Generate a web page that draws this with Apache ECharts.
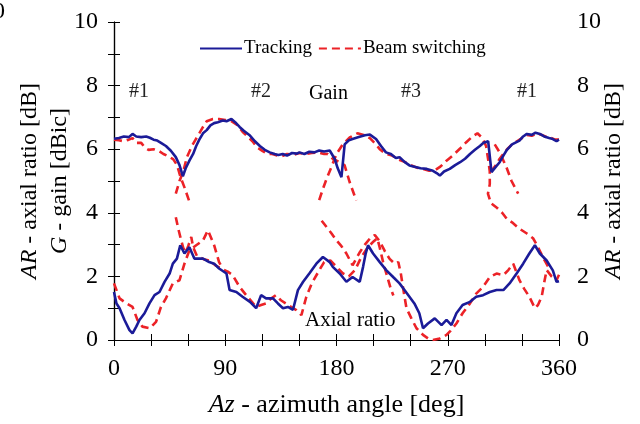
<!DOCTYPE html>
<html lang="en">
<head>
<meta charset="UTF-8">
<style>
  html, body { height: 100%; margin: 0; background: #fff; }
</style>
</head>
<body>
<div id="chart" style="width:640px;height:424px;"></div>
<script src="https://cdn.jsdelivr.net/npm/echarts@6/dist/echarts.min.js"></script>
<script>
// tracking (blue, solid)
var trackGain = [[0,6.33],[4,6.35],[8,6.4],[12,6.38],[15,6.48],[18,6.4],[22,6.38],[26,6.4],[29,6.36],[32,6.3],[35,6.27],[38,6.2],[42,6.1],[46,5.95],[50,5.75],[53,5.5],[55.7,5.15],[58,5.4],[61,5.64],[64,5.85],[66.5,6.1],[69,6.3],[72,6.5],[75,6.6],[78,6.75],[81,6.82],[84,6.85],[88,6.9],[91,6.88],[95,6.95],[98,6.85],[101.6,6.7],[105,6.58],[110,6.43],[114,6.25],[118,6.1],[122,5.98],[126,5.9],[130,5.85],[133,5.82],[136.5,5.85],[140,5.8],[144,5.88],[148,5.86],[150,5.9],[154,5.85],[158,5.92],[162,5.9],[166,5.96],[170,5.93],[174.5,5.96],[178.5,5.7],[181,5.4],[184,5.12],[186.6,6.15],[190,6.28],[193,6.32],[198,6.38],[203,6.44],[207,6.46],[212,6.32],[216,6.1],[220,5.9],[224,5.85],[228,5.72],[231,5.75],[235,5.6],[239,5.49],[243,5.45],[248,5.4],[253,5.38],[258,5.32],[261,5.25],[263.6,5.17],[267,5.3],[271.6,5.38],[276,5.5],[280,5.59],[284,5.7],[288,5.85],[292,5.98],[296,6.1],[299,6.2],[302.7,6.25],[305.4,5.28],[309,5.45],[312,5.59],[315,5.8],[317.5,5.96],[322,6.15],[328,6.27],[331,6.4],[334,6.48],[338,6.45],[341,6.52],[344.5,6.48],[348,6.4],[352,6.35],[355,6.32],[358,6.25],[360,6.3]];
var trackAR = [[0,1.51],[2,1.15],[4.5,1.0],[8.5,0.63],[12.5,0.31],[15,0.21],[18,0.42],[20.6,0.63],[24.7,0.84],[28.7,1.15],[32.8,1.41],[36.8,1.51],[40.9,1.83],[45,2.09],[47.6,2.4],[50.9,2.56],[53.6,2.98],[57,2.72],[61,2.92],[65,2.56],[72,2.56],[77,2.45],[81,2.4],[85,2.25],[91,2.09],[93.5,1.57],[99,1.51],[104,1.36],[110,1.2],[115,1.0],[119,1.41],[123,1.31],[128.6,1.31],[132.6,1.15],[136.7,1.0],[140.7,1.04],[144.8,0.95],[148.8,1.57],[153,1.83],[158,2.09],[163.7,2.4],[169,2.61],[174.5,2.45],[177,2.3],[182.6,2.09],[188,1.83],[193,1.98],[198.8,1.83],[201.5,2.3],[203.5,2.7],[205.5,2.98],[209.6,2.72],[215,2.45],[220.4,2.19],[225.8,1.98],[231,1.78],[235,1.57],[239,1.36],[243,1.15],[247,0.84],[250,0.37],[254,0.52],[259.5,0.68],[265,0.47],[269,0.63],[273,0.47],[277,0.84],[282,1.1],[288,1.2],[293,1.36],[298.6,1.41],[304,1.51],[309.5,1.57],[315,1.57],[320,1.78],[325.7,2.09],[331,2.4],[336,2.72],[340.5,2.98],[344.5,2.72],[350,2.5],[355,2.19],[358,1.83],[360,1.85]];

// beam switching (red, dashed), one piece per beam curve
var beamGain1 = [[0,6.3],[4,6.28],[8,6.25],[12,6.3],[15,6.35],[18,6.2],[22,6.2],[25,6.05],[28,5.98],[32,6.0],[36,5.95],[40,5.85],[44,5.78],[48,5.68],[51,5.5],[54,5.1],[57,4.8],[61,4.35]];
var beamGain2 = [[50,4.6],[53,5.0],[56,5.3],[59,5.75],[63,6.1],[66,6.3],[69,6.5],[72,6.7],[75,6.88],[80,6.95],[85,6.95],[90,6.92],[95,6.88],[100,6.75],[104,6.55],[108,6.4],[112,6.25],[116,6.05],[120,5.95],[124,5.85],[128,5.85],[132,5.8],[136,5.78],[140,5.85],[145,5.82],[150,5.88],[155,5.85],[160,5.88],[165,5.9],[170,5.85],[173,5.85],[177,5.7],[182,5.6],[186.5,5.5],[190.7,4.96],[196,4.39]];
var beamGain3 = [[166,4.4],[169,4.75],[172,5.07],[176,5.45],[180,5.85],[185,6.15],[190.7,6.37],[197,6.5],[202,6.45],[207,6.35],[212,6.15],[215,6.0],[220,5.85],[225,5.8],[230,5.68],[235,5.6],[240,5.5],[245,5.42],[250,5.38],[255,5.32],[260,5.35],[264,5.45],[269,5.64],[274,5.8],[280,6.02],[285,6.22],[290,6.4],[294,6.5],[298,6.35],[301,6.1],[303,5.6],[304,5.3],[304,4.9],[302.5,4.6],[305,4.3],[310,4.15],[314,4.0],[318,3.8],[322,3.7],[328,3.5],[334,3.35],[339,3.2],[342,3.0],[347,2.6],[352,2.25]];
var beamGain4 = [[308,6.15],[312,5.9],[317.5,5.43],[321.6,5.0],[327,4.6]];
var beamGain5 = [[305,5.3],[309,5.5],[312,5.7],[315,5.85],[318,6.0],[322,6.15],[326,6.25],[330,6.35],[334,6.45],[338,6.42],[342,6.5],[346,6.45],[350,6.38],[354,6.35],[357,6.3],[360,6.3]];
var beamAR1 = [[0,1.78],[4.5,1.31],[10,1.15],[15,1.04],[19,0.63],[23,0.42],[29,0.37],[34,0.57],[38,1.04],[42,1.31],[47.6,1.78],[53,1.88],[57,2.4],[61,2.82],[66.5,2.98],[72,3.13],[76,3.45],[81,2.98],[85,2.45],[88,2.25]];
var beamAR2 = [[50,3.86],[52,3.5],[54,3.19],[56,2.9],[58,2.75],[60,2.95],[62.5,3.24],[64,2.92],[67,2.65],[72,2.55],[77,2.5],[82,2.35],[88,2.22],[92,2.15],[96,2.04],[101.6,1.67],[108,1.36],[115,1.04],[119,1.1],[123,1.15],[127,1.3],[131,1.41],[135,1.25],[139,1.15],[143,1.05],[147.5,0.94],[151.6,0.78],[155.6,1.36],[160,1.78],[166,2.19],[170,2.45],[175,2.5],[180,2.3],[185,2.1],[190,2.0],[195,2.2],[200,2.6],[205,2.9],[210,3.1],[213,3.2],[215,2.9],[218,2.4],[221,2.0],[224,1.6],[226,1.4]];
var beamAR3 = [[168,3.75],[172,3.55],[176,3.35],[180,3.13],[184,2.95],[188,2.72],[193,2.35],[199,2.77],[203,3.0],[207,3.19],[211,3.3],[215,3.1],[219,2.8],[223,2.55],[227,2.4],[230,2.45],[232,2.1],[234,1.6],[236.6,1.0],[240.6,0.68],[244.7,0.37],[250,0.16],[254,0.05],[258,0],[263.6,0.05],[269,0.16],[272,0.28],[277,0.52],[282,0.84],[288,1.15],[293,1.46],[298.6,1.67],[304,1.98],[309.5,2.09],[315,2.04],[319,2.2],[323,2.4],[328,1.88],[332,1.6],[336,1.36],[340.5,1.0],[343,1.1],[346,1.36],[348,1.8],[350,2.2],[354,2.0],[358,1.88],[360,2.05]];

var beamPieces = [beamGain1, beamGain2, beamGain3, beamGain4, beamGain5, beamAR1, beamAR2, beamAR3];
var trackPieces = [trackGain, trackAR];

var font = '"Liberation Serif", "Times New Roman", serif';
var blue = '#1b1b98';
var red = '#ec2227';

var series = [];
beamPieces.forEach(function (d) {
    series.push({
        name: 'Beam switching', type: 'line', data: d, symbol: 'none',
        lineStyle: { color: red, width: 2.6, type: [8, 5] },
        itemStyle: { color: red }, silent: true
    });
});
trackPieces.forEach(function (d) {
    series.push({
        name: 'Tracking', type: 'line', data: d, symbol: 'none',
        lineStyle: { color: blue, width: 2.6 },
        itemStyle: { color: blue }, silent: true
    });
});

var axisText = { color: '#000', fontFamily: font, fontSize: 24 };
function nameStyle(size, lh) {
    return {
        color: '#000', fontFamily: font, fontSize: size, lineHeight: lh,
        rich: { i: { fontStyle: 'italic', fontFamily: font, fontSize: size, lineHeight: lh, color: '#000' } }
    };
}
var lineBlack = { lineStyle: { color: '#000', width: 1.2 } };
var tickIn = { show: true, inside: true, length: 6, lineStyle: { color: '#000' } };

var myChart = echarts.init(document.getElementById('chart'));
myChart.setOption({
    animation: false,
    backgroundColor: '#fff',
    grid: { left: 114, right: 81, top: 22, bottom: 84, outerBoundsMode: 'none', containLabel: false },
    legend: {
        top: 34, left: 194,
        itemWidth: 42, itemHeight: 14, itemGap: 6,
        itemStyle: { opacity: 0 },
        textStyle: { color: '#000', fontFamily: font, fontSize: 19, padding: [0, 0, 0, -3] },
        data: ['Tracking', 'Beam switching']
    },
    xAxis: [{
        type: 'value', min: 0, max: 360, interval: 30,
        axisLine: lineBlack, axisTick: tickIn,
        splitLine: { show: false },
        axisLabel: Object.assign({ margin: 17, formatter: function (v) { return v % 90 === 0 ? v : ''; } }, axisText),
        name: '{i|Az} - azimuth angle [deg]', nameLocation: 'middle', nameGap: 51,
        nameMoveOverlap: false,
        nameTextStyle: nameStyle(26, 28)
    }, {
        type: 'value', min: 0, max: 360, interval: 30, position: 'top',
        axisLine: lineBlack, axisTick: tickIn,
        axisLabel: { show: false }, splitLine: { show: false }
    }],
    yAxis: [{
        type: 'value', min: 0, max: 10, interval: 1,
        axisLine: { show: true, lineStyle: { color: '#000', width: 1.2 } },
        axisTick: tickIn,
        splitLine: { show: false },
        axisLabel: Object.assign({ margin: 16, formatter: function (v) { return v % 2 === 0 ? v : ''; } }, axisText),
        name: '{i|AR} - axial ratio [dB]\n{i|G} - gain [dBic]', nameLocation: 'middle', nameGap: 39,
        nameMoveOverlap: false,
        nameTextStyle: nameStyle(24, 30)
    }, {
        type: 'value', min: 0, max: 10, interval: 1, position: 'right',
        axisLine: { show: true, lineStyle: { color: '#000', width: 1.2 } },
        axisTick: tickIn,
        splitLine: { show: false },
        axisLabel: Object.assign({ margin: 18, formatter: function (v) { return v % 2 === 0 ? v : ''; } }, axisText),
        name: '{i|AR} - axial ratio [dB]', nameLocation: 'middle', nameGap: 42,
        nameRotate: 90, nameMoveOverlap: false,
        nameTextStyle: nameStyle(24, 26)
    }],
    graphic: [
        { type: 'text', left: 129, top: 82, style: { text: '#1', font: '20px "Liberation Serif"', fill: '#222' } },
        { type: 'text', left: 251, top: 82, style: { text: '#2', font: '20px "Liberation Serif"', fill: '#222' } },
        { type: 'text', left: 309, top: 84, style: { text: 'Gain', font: '20px "Liberation Serif"', fill: '#000' } },
        { type: 'text', left: 401, top: 82, style: { text: '#3', font: '20px "Liberation Serif"', fill: '#222' } },
        { type: 'text', left: 517, top: 82, style: { text: '#1', font: '20px "Liberation Serif"', fill: '#222' } },
        { type: 'text', left: 305, top: 310, style: { text: 'Axial ratio', font: '21px "Liberation Serif"', fill: '#000' } },
        { type: 'text', left: -7, top: 0, style: { text: '0', font: '24px "Liberation Serif"', fill: '#000' } }
    ],
    series: series
});
</script>
</body>
</html>
